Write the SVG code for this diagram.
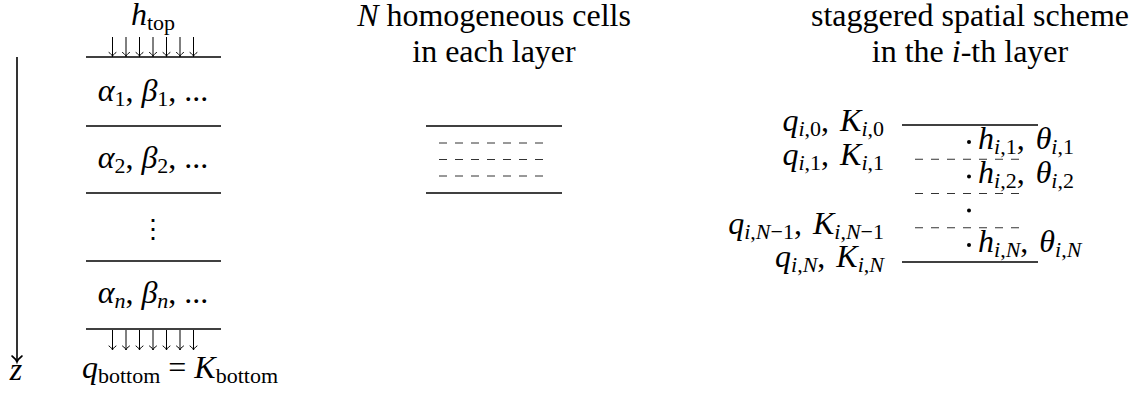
<svg xmlns="http://www.w3.org/2000/svg" width="1146" height="397" viewBox="0 0 1146 397">
<defs>
<style>
text{font-family:"Liberation Serif","Times New Roman",serif;font-size:32px;fill:#000}
.i{font-style:italic}
.s{font-size:22px}
.bd{stroke:#000;stroke-width:1.6;fill:none}
.ds{stroke:#333;stroke-width:1;stroke-dasharray:8 8;fill:none}
.fa{stroke:#000;stroke-width:1;fill:none;marker-end:url(#tip)}
.za{stroke:#000;stroke-width:1.6;fill:none;marker-end:url(#tipL)}
.dot{fill:#000}
</style>
<marker id="tip" markerUnits="userSpaceOnUse" viewBox="-6 -5 7 10" refX="0" refY="0" markerWidth="7" markerHeight="10" orient="auto" overflow="visible">
<path d="M-4,-3.5 C-2.5,-1.2 -1,-0.3 0,0 C-1,0.3 -2.5,1.2 -4,3.5" fill="none" stroke="#000" stroke-width="1" stroke-linecap="round"/>
</marker>
<marker id="tipL" markerUnits="userSpaceOnUse" viewBox="-8 -6 9 12" refX="0" refY="0" markerWidth="9" markerHeight="12" orient="auto" overflow="visible">
<path d="M-6,-5 C-3.5,-1.8 -1.2,-0.4 0,0 C-1.2,0.4 -3.5,1.8 -6,5" fill="none" stroke="#000" stroke-width="1.6" stroke-linecap="round"/>
</marker>
</defs>

<g id="left-column">
  <g id="h-top"><text x="153" y="25" text-anchor="middle"><tspan class="i">h</tspan><tspan class="s" dy="5">top</tspan></text></g>
  <g id="boundaries">
    <line class="bd" x1="86" y1="57" x2="221" y2="57"/>
    <line class="bd" x1="86" y1="126" x2="221" y2="126"/>
    <line class="bd" x1="86" y1="193" x2="221" y2="193"/>
    <line class="bd" x1="86" y1="261" x2="221" y2="261"/>
    <line class="bd" x1="86" y1="329" x2="221" y2="329"/>
  </g>
  <g id="layer-1"><text x="153" y="101" text-anchor="middle"><tspan class="i">α</tspan><tspan class="s" dy="5">1</tspan><tspan dy="-5">, </tspan><tspan class="i">β</tspan><tspan class="s" dy="5">1</tspan><tspan dy="-5">, ...</tspan></text></g>
  <g id="layer-2"><text x="153" y="168" text-anchor="middle"><tspan class="i">α</tspan><tspan class="s" dy="5">2</tspan><tspan dy="-5">, </tspan><tspan class="i">β</tspan><tspan class="s" dy="5">2</tspan><tspan dy="-5">, ...</tspan></text></g>
  <g id="layer-dots"><text x="153" y="238" text-anchor="middle" style="font-family:'DejaVu Serif',serif;font-size:26px">⋮</text></g>
  <g id="layer-n"><text x="153" y="303" text-anchor="middle"><tspan class="i">α</tspan><tspan class="s" dy="5" font-style="italic">n</tspan><tspan dy="-5">, </tspan><tspan class="i">β</tspan><tspan class="s" dy="5" font-style="italic">n</tspan><tspan dy="-5">, ...</tspan></text></g>
  <g id="z-label"><text x="16" y="380" text-anchor="middle" class="i">z</text></g>
  <g id="q-bottom"><text x="180" y="378" text-anchor="middle"><tspan class="i">q</tspan><tspan class="s" dy="5">bottom</tspan><tspan dy="-5"> = </tspan><tspan class="i">K</tspan><tspan class="s" dy="5">bottom</tspan></text></g>
</g>

<g id="connectors">
  <line class="za" x1="17" y1="57" x2="17" y2="362"/>
  <g id="top-flux">
    <line class="fa" x1="112.5" y1="37" x2="112.5" y2="56.5"/>
    <line class="fa" x1="126" y1="37" x2="126" y2="56.5"/>
    <line class="fa" x1="139.5" y1="37" x2="139.5" y2="56.5"/>
    <line class="fa" x1="153" y1="37" x2="153" y2="56.5"/>
    <line class="fa" x1="166.5" y1="37" x2="166.5" y2="56.5"/>
    <line class="fa" x1="180" y1="37" x2="180" y2="56.5"/>
    <line class="fa" x1="193.5" y1="37" x2="193.5" y2="56.5"/>
  </g>
  <g id="bottom-flux">
    <line class="fa" x1="112.5" y1="330" x2="112.5" y2="350"/>
    <line class="fa" x1="126" y1="330" x2="126" y2="350"/>
    <line class="fa" x1="139.5" y1="330" x2="139.5" y2="350"/>
    <line class="fa" x1="153" y1="330" x2="153" y2="350"/>
    <line class="fa" x1="166.5" y1="330" x2="166.5" y2="350"/>
    <line class="fa" x1="180" y1="330" x2="180" y2="350"/>
    <line class="fa" x1="193.5" y1="330" x2="193.5" y2="350"/>
  </g>
</g>

<g id="middle-column">
  <g id="title-mid">
    <text x="494" y="26" text-anchor="middle"><tspan class="i">N</tspan> homogeneous cells</text>
    <text x="494" y="62" text-anchor="middle">in each layer</text>
  </g>
  <g id="cells-block">
    <line class="bd" x1="426" y1="126" x2="562" y2="126"/>
    <line class="ds" x1="439" y1="143" x2="543" y2="143"/>
    <line class="ds" x1="439" y1="159.5" x2="543" y2="159.5"/>
    <line class="ds" x1="439" y1="176" x2="543" y2="176"/>
    <line class="bd" x1="426" y1="193" x2="562" y2="193"/>
  </g>
</g>

<g id="right-column">
  <g id="title-right">
    <text x="970" y="26" text-anchor="middle">staggered spatial scheme</text>
    <text x="970" y="62" text-anchor="middle">in the <tspan class="i">i</tspan>-th layer</text>
  </g>
  <g id="staggered-block">
    <line class="bd" x1="902" y1="125" x2="1038" y2="125"/>
    <line class="ds" x1="915" y1="159.25" x2="1019" y2="159.25"/>
    <line class="ds" x1="915" y1="193.5" x2="1019" y2="193.5"/>
    <line class="ds" x1="915" y1="227.75" x2="1019" y2="227.75"/>
    <line class="bd" x1="902" y1="262" x2="1038" y2="262"/>
    <circle class="dot" cx="969" cy="142" r="2"/>
    <circle class="dot" cx="969" cy="176.4" r="2"/>
    <circle class="dot" cx="969" cy="210.6" r="2"/>
    <circle class="dot" cx="969" cy="244.9" r="2"/>
  </g>
  <g id="flux-labels">
    <text x="884" y="131" text-anchor="end"><tspan class="i">q</tspan><tspan class="s" dy="5"><tspan class="i">i</tspan>,0</tspan><tspan dy="-5">, </tspan><tspan class="i" dx="3">K</tspan><tspan class="s" dy="5"><tspan class="i">i</tspan>,0</tspan></text>
    <text x="884" y="165" text-anchor="end"><tspan class="i">q</tspan><tspan class="s" dy="5"><tspan class="i">i</tspan>,1</tspan><tspan dy="-5">, </tspan><tspan class="i" dx="3">K</tspan><tspan class="s" dy="5"><tspan class="i">i</tspan>,1</tspan></text>
    <text x="884" y="234" text-anchor="end"><tspan class="i">q</tspan><tspan class="s" dy="5"><tspan class="i">i</tspan>,<tspan class="i">N</tspan>−1</tspan><tspan dy="-5">, </tspan><tspan class="i" dx="3">K</tspan><tspan class="s" dy="5"><tspan class="i">i</tspan>,<tspan class="i">N</tspan>−1</tspan></text>
    <text x="884" y="267" text-anchor="end"><tspan class="i">q</tspan><tspan class="s" dy="5"><tspan class="i">i</tspan>,<tspan class="i">N</tspan></tspan><tspan dy="-5">, </tspan><tspan class="i" dx="3">K</tspan><tspan class="s" dy="5"><tspan class="i">i</tspan>,<tspan class="i">N</tspan></tspan></text>
  </g>
  <g id="head-labels">
    <text x="978" y="149"><tspan class="i">h</tspan><tspan class="s" dy="5"><tspan class="i">i</tspan>,1</tspan><tspan dy="-5">, </tspan><tspan class="i" dx="3">θ</tspan><tspan class="s" dy="5"><tspan class="i">i</tspan>,1</tspan></text>
    <text x="978" y="183"><tspan class="i">h</tspan><tspan class="s" dy="5"><tspan class="i">i</tspan>,2</tspan><tspan dy="-5">, </tspan><tspan class="i" dx="3">θ</tspan><tspan class="s" dy="5"><tspan class="i">i</tspan>,2</tspan></text>
    <text x="978" y="252"><tspan class="i">h</tspan><tspan class="s" dy="5"><tspan class="i">i</tspan>,<tspan class="i">N</tspan></tspan><tspan dy="-5">, </tspan><tspan class="i" dx="3">θ</tspan><tspan class="s" dy="5"><tspan class="i">i</tspan>,<tspan class="i">N</tspan></tspan></text>
  </g>
</g>
</svg>
